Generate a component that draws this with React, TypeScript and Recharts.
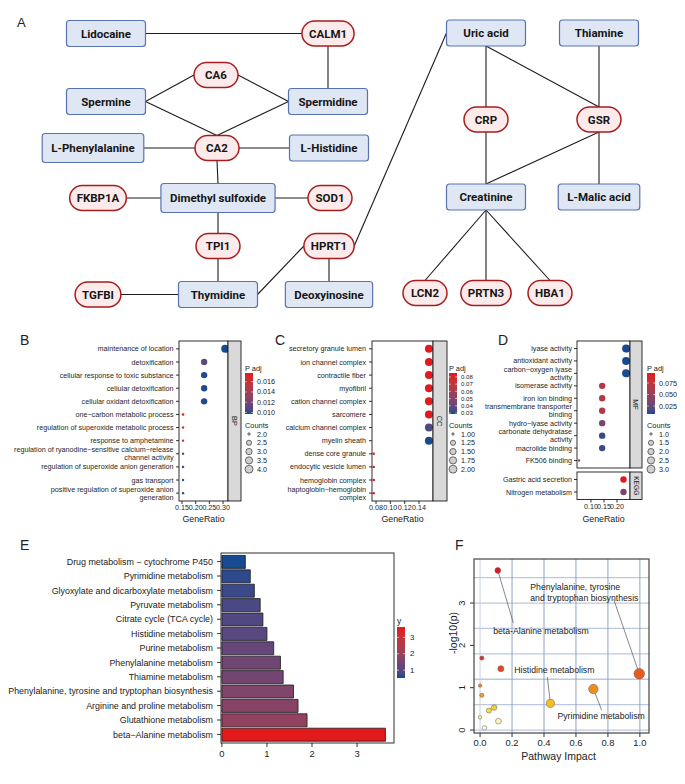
import React from 'react';
import { ScatterChart, Scatter, XAxis, YAxis, BarChart, Bar, Cell } from 'recharts';

const SANS = '"Liberation Sans", Arial, Helvetica, sans-serif';
const NODE_FONT = 'Roboto, "Liberation Sans", Arial, sans-serif';
const INK = '#222222';
const ROW_FS = 7.2;

/* ---------------- A: compound / protein network ---------------- */
const nodeNames = ['Lidocaine', 'CALM1', 'CA6', 'Spermine', 'Spermidine', 'L-Phenylalanine', 'CA2', 'L-Histidine',
  'FKBP1A', 'Dimethyl sulfoxide', 'SOD1', 'TPI1', 'HPRT1', 'TGFBI', 'Thymidine', 'Deoxyinosine',
  'Uric acid', 'Thiamine', 'CRP', 'GSR', 'Creatinine', 'L-Malic acid', 'LCN2', 'PRTN3', 'HBA1'];
// m = metabolite (box), p = protein (pill)
const nodeKinds = ['m', 'p', 'p', 'm', 'm', 'm', 'p', 'm', 'p', 'm', 'p', 'p', 'p', 'p', 'm', 'm',
  'm', 'm', 'p', 'p', 'm', 'm', 'p', 'p', 'p'];
const nodeX = [106, 328, 216, 106, 328, 93, 217, 329, 98, 218, 330, 218, 329, 98, 218, 329,
  486, 599, 486, 599, 486, 599, 425, 486, 550];
const nodeY = [33.5, 33.5, 75, 101.5, 101.5, 148, 148, 148, 198, 198, 198, 246, 246, 294.5, 294.5, 294.5,
  33, 33, 119.5, 119.5, 197, 197, 293, 293, 293];

const edgeFrom = ['Lidocaine', 'CALM1', 'Spermine', 'CA6', 'Spermine', 'CA2', 'L-Phenylalanine', 'CA2', 'CA2',
  'FKBP1A', 'Dimethyl sulfoxide', 'Dimethyl sulfoxide', 'TPI1', 'TGFBI', 'Thymidine', 'HPRT1', 'HPRT1',
  'Uric acid', 'Uric acid', 'Thiamine', 'CRP', 'GSR', 'GSR', 'Creatinine', 'Creatinine', 'Creatinine'];
const edgeTo = ['CALM1', 'Spermidine', 'CA6', 'Spermidine', 'CA2', 'Spermidine', 'CA2', 'L-Histidine',
  'Dimethyl sulfoxide', 'Dimethyl sulfoxide', 'SOD1', 'TPI1', 'Thymidine', 'Thymidine', 'HPRT1', 'Deoxyinosine',
  'Uric acid', 'CRP', 'GSR', 'GSR', 'Creatinine', 'Creatinine', 'L-Malic acid', 'LCN2', 'PRTN3', 'HBA1'];
// side of each end: l r t b
const edgeSides = ['rl', 'bt', 'rl', 'rl', 'rt', 'tl', 'rl', 'rl', 'bt', 'rl', 'rl', 'bt', 'bt', 'rl', 'rl', 'bt',
  'rl', 'bt', 'bt', 'bt', 'bt', 'bt', 'bt', 'bt', 'bt', 'bt'];

/* ---------------- B: GO BP ---------------- */
const bLabels = ['maintenance of location', 'detoxification', 'cellular response to toxic substance',
  'cellular detoxification', 'cellular oxidant detoxification', 'one\u2212carbon metabolic process',
  'regulation of superoxide metabolic process', 'response to amphetamine',
  'regulation of ryanodine\u2212sensitive calcium\u2212release\nchannel activity',
  'regulation of superoxide anion generation', 'gas transport',
  'positive regulation of superoxide anion\ngeneration'];
const bCounts = [4, 3, 3, 3, 3, 2, 2, 2, 2, 2, 2, 2];
const bRatio = [0.3077, 0.2308, 0.2308, 0.2308, 0.2308, 0.1538, 0.1538, 0.1538, 0.1538, 0.1538, 0.1538, 0.1538];
const bPadj = [0.0097, 0.0112, 0.0098, 0.0098, 0.0098, 0.0177, 0.0163, 0.0148, 0.0113, 0.0100, 0.0099, 0.0099];
const bTicks = [0.15, 0.2, 0.25, 0.3];
const bPadjBreaks = [0.010, 0.012, 0.014, 0.016];
const bCountBreaks = [2.0, 2.5, 3.0, 3.5, 4.0];

/* ---------------- C: GO CC ---------------- */
const cLabels = ['secretory granule lumen', 'ion channel complex', 'contractile fiber', 'myofibril',
  'cation channel complex', 'sarcomere', 'calcium channel complex', 'myelin sheath', 'dense core granule',
  'endocytic vesicle lumen', 'hemoglobin complex', 'haptoglobin\u2212hemoglobin\ncomplex'];
const cCounts = [2, 2, 2, 2, 2, 2, 2, 2, 1, 1, 1, 1];
const cRatio = [0.1538, 0.1538, 0.1538, 0.1538, 0.1538, 0.1538, 0.1538, 0.1538, 0.0769, 0.0769, 0.0769, 0.0769];
const cPadj = [0.0855, 0.0855, 0.0855, 0.0855, 0.0855, 0.0855, 0.035, 0.0286, 0.0855, 0.0855, 0.0855, 0.0855];
const cTicks = [0.08, 0.10, 0.12, 0.14];
const cPadjBreaks = [0.03, 0.04, 0.05, 0.06, 0.07, 0.08];
const cCountBreaks = [1.0, 1.25, 1.5, 1.75, 2.0];

/* ---------------- D: GO MF + KEGG ---------------- */
const dLabels = ['lyase activity', 'antioxidant activity', 'carbon\u2212oxygen lyase\nactivity', 'isomerase activity',
  'iron ion binding', 'transmembrane transporter\nbinding', 'hydro\u2212lyase activity',
  'carbonate dehydratase\nactivity', 'macrolide binding', 'FK506 binding'];
const dCounts = [3, 3, 3, 2, 2, 2, 2, 2, 2, 1];
const dRatio = [0.235, 0.235, 0.235, 0.143, 0.143, 0.143, 0.143, 0.143, 0.143, 0.054];
const dPadj = [0.0078, 0.0080, 0.0082, 0.066, 0.064, 0.063, 0.034, 0.012, 0.0125, 0.062];
const kLabels = ['Gastric acid secretion', 'Nitrogen metabolism'];
const kCounts = [2, 2];
const kRatio = [0.225, 0.225];
const kPadj = [0.0967, 0.034];
const dTicks = [0.10, 0.15, 0.20];
const dPadjBreaks = [0.025, 0.050, 0.075];
const dCountBreaks = [1.0, 1.5, 2.0, 2.5, 3.0];

/* ---------------- E: pathway enrichment bars ---------------- */
const eNames = ['Drug metabolism \u2212 cytochrome P450', 'Pyrimidine metabolism',
  'Glyoxylate and dicarboxylate metabolism', 'Pyruvate metabolism', 'Citrate cycle (TCA cycle)',
  'Histidine metabolism', 'Purine metabolism', 'Phenylalanine metabolism', 'Thiamine metabolism',
  'Phenylalanine, tyrosine and tryptophan biosynthesis', 'Arginine and proline metabolism',
  'Glutathione metabolism', 'beta\u2212Alanine metabolism'];
const eValues = [0.52, 0.63, 0.72, 0.85, 0.91, 1.0, 1.15, 1.3, 1.36, 1.59, 1.69, 1.89, 3.63];
const eTicks = [0, 1, 2, 3];

/* ---------------- F: pathway impact ---------------- */
const fImpact = [0.111, 0.011, 0.13, 0.0, 0.011, 0.055, 0.088, 0.0, 0.115, 0.027, 0.44, 0.709, 0.996];
const fLogp = [3.77, 1.70, 1.45, 1.05, 0.82, 0.46, 0.53, 0.30, 0.21, 0.05, 0.63, 0.97, 1.33];
const fTicksX = [0, 0.2, 0.4, 0.6, 0.8, 1.0];
const fTicksY = [0, 1, 2, 3];
const fGridX = [0, 0.2, 0.4, 0.6, 0.8, 1.0];
const fGridY = [0, 0.6, 1.2, 1.8, 2.4, 3.0, 3.6];
const fNoteText = ['Phenylalanine, tyrosine', 'and tryptophan biosynthesis', 'beta-Alanine metabolism',
  'Histidine metabolism', 'Pyrimidine metabolism'];
const fNoteX = [0.314, 0.314, 0.082, 0.214, 0.484];
const fNoteY = [3.31, 3.05, 2.27, 1.35, 0.26];
const fLeadFrom = [[0.111, 3.77], [0.836, 3.09], [0.421, 1.25], [0.761, 0.47]];
const fLeadTo = [[0.208, 2.53], [0.996, 1.33], [0.44, 0.63], [0.709, 0.97]];

/* ---------------- colour helpers ---------------- */
const LOW = '#174a90';
const HIGH = '#e31a1c';

function hexRgb(h: string) {
  const n = parseInt(h.slice(1), 16);
  return [(n >> 16) & 255, (n >> 8) & 255, n & 255];
}
const toLin = (c: number) => { c /= 255; return c <= 0.04045 ? c / 12.92 : Math.pow((c + 0.055) / 1.055, 2.4); };
const fromLin = (c: number) => {
  const v = c <= 0.0031308 ? 12.92 * c : 1.055 * Math.pow(c, 1 / 2.4) - 0.055;
  return Math.round(Math.max(0, Math.min(1, v)) * 255);
};
function toLab(hex: string) {
  const [r, g, b] = hexRgb(hex).map(toLin);
  const X = (0.4124 * r + 0.3576 * g + 0.1805 * b) / 0.95047;
  const Y = 0.2126 * r + 0.7152 * g + 0.0722 * b;
  const Z = (0.0193 * r + 0.1192 * g + 0.9505 * b) / 1.08883;
  const f = (t: number) => (t > 0.008856 ? Math.cbrt(t) : 7.787 * t + 16 / 116);
  const fx = f(X), fy = f(Y), fz = f(Z);
  return [116 * fy - 16, 500 * (fx - fy), 200 * (fy - fz)];
}
function fromLab(L: number, a: number, bb: number) {
  const fy = (L + 16) / 116, fx = fy + a / 500, fz = fy - bb / 200;
  const inv = (t: number) => (t * t * t > 0.008856 ? t * t * t : (t - 16 / 116) / 7.787);
  const X = inv(fx) * 0.95047, Y = inv(fy), Z = inv(fz) * 1.08883;
  const r = 3.2406 * X - 1.5372 * Y - 0.4986 * Z;
  const g = -0.9689 * X + 1.8758 * Y + 0.0415 * Z;
  const b = 0.0557 * X - 0.204 * Y + 1.057 * Z;
  return `rgb(${fromLin(r)},${fromLin(g)},${fromLin(b)})`;
}
const LAB_LO = toLab(LOW);
const LAB_HI = toLab(HIGH);
function grad(t: number) {
  const u = Math.max(0, Math.min(1, t));
  return fromLab(
    LAB_LO[0] + (LAB_HI[0] - LAB_LO[0]) * u,
    LAB_LO[1] + (LAB_HI[1] - LAB_LO[1]) * u,
    LAB_LO[2] + (LAB_HI[2] - LAB_LO[2]) * u,
  );
}

const heatStops: [number, string][] = [[0, '#fffbe6'], [0.25, '#f9f2ae'], [0.45, '#f5dd55'], [0.6, '#f5c419'],
  [0.8, '#f2a22a'], [1.0, '#ef8a1e'], [1.35, '#ec571b'], [1.5, '#e53e1d'], [1.8, '#e1281c'], [3.8, '#e4161c']];
function heat(v: number) {
  for (let i = 1; i < heatStops.length; i++) {
    const [v1, c1] = heatStops[i];
    const [v0, c0] = heatStops[i - 1];
    if (v <= v1 || i === heatStops.length - 1) {
      const t = Math.max(0, Math.min(1, (v - v0) / (v1 - v0)));
      const a = hexRgb(c0), b = hexRgb(c1);
      return `rgb(${a.map((x, k) => Math.round(x + (b[k] - x) * t)).join(',')})`;
    }
  }
  return heatStops[0][1];
}

const extent = (a: number[]) => [Math.min(...a), Math.max(...a)];
const makeSize = (lo: number, hi: number) => (n: number) => 1.2 + 2.8 * Math.sqrt((n - lo) / (hi - lo));

/* ---------------- geometry (page px) ---------------- */
const GB = { x: 179, r: 228, y: 341, b: 501 };
const GC = { x: 372, r: 433, y: 341, b: 501 };
const GD = { x: 577, r: 630, y: 341, b: 468 };
const GK = { x: 577, r: 630, y: 472, b: 499.5 };
const GE = { x: 221, r: 394, y: 553, b: 743 };
const GF = { x: 474, r: 649, y: 559, b: 733 };

/* ---------------- Panel A ---------------- */
function measure(s: string) {
  const c = document.createElement('canvas').getContext('2d');
  if (!c) return s.length * 6.3;
  c.font = '700 11.5px Roboto';
  return c.measureText(s).width;
}

function NodeShape(props: any) {
  const { cx, cy, payload } = props;
  const { w, h, kind, name } = payload;
  const pill = kind === 'p';
  return (
    <g>
      <rect x={cx - w / 2} y={cy - h / 2} width={w} height={h} rx={pill ? h / 2 : 3}
        fill={pill ? '#fdeaea' : '#dfe6f4'} stroke={pill ? '#a71d1d' : '#5873b3'} strokeWidth={pill ? 1.5 : 1.2} />
      <text x={cx} y={cy} dy="0.36em" textAnchor="middle" fontFamily={NODE_FONT} fontWeight={700}
        fontSize={11.5} fill="#161616">{name}</text>
    </g>
  );
}

function NetworkPanel() {
  const nodes = nodeNames.map((name, i) => {
    const tw = measure(name);
    const kind = nodeKinds[i];
    const w = kind === 'p' ? Math.max(44, tw + 14) : Math.max(79, tw + 18);
    const h = kind === 'p' ? 25 : tw > 80 ? 29 : 26;
    return { name, kind, x: nodeX[i], y: nodeY[i], w, h };
  });
  const byName: Record<string, any> = {};
  nodes.forEach((n) => { byName[n.name] = n; });
  const side = (n: any, s: string) => {
    if (s === 'l') return { x: n.x - n.w / 2, y: n.y };
    if (s === 'r') return { x: n.x + n.w / 2, y: n.y };
    if (s === 't') return { x: n.x, y: n.y - n.h / 2 };
    return { x: n.x, y: n.y + n.h / 2 };
  };
  const edges = edgeFrom.map((f, i) => [side(byName[f], edgeSides[i][0]), side(byName[edgeTo[i]], edgeSides[i][1])]);
  return (
    <ScatterChart width={685} height={310} margin={{ top: 0, right: 0, bottom: 0, left: 0 }}>
      <XAxis type="number" dataKey="x" domain={[0, 685]} hide />
      <YAxis type="number" dataKey="y" domain={[0, 310]} reversed hide />
      {edges.map((e, i) => (
        <Scatter key={i} data={e} line={{ stroke: '#1c1c1c', strokeWidth: 1.1 }} shape={() => <g />}
          isAnimationActive={false} />
      ))}
      <Scatter data={nodes} shape={NodeShape} isAnimationActive={false} />
    </ScatterChart>
  );
}

/* ---------------- Panels B, C, D ---------------- */
function RowTick(props: any) {
  const { x, y, payload, labels, fs } = props;
  const lines = String(labels[payload.value] ?? '').split('\n');
  const lh = fs * 1.07;
  return (
    <text x={x} y={y} textAnchor="end" fontSize={fs} fill="#262626" fontFamily={SANS}>
      {lines.map((l, i) => (
        <tspan key={i} x={x} dy={i === 0 ? -((lines.length - 1) / 2) * lh + fs * 0.35 : lh}>{l}</tspan>
      ))}
    </text>
  );
}

function DotPanel(props: any) {
  const { left, top, width, height, box, domain, ticks, showX, labels, ratio, padj, counts, limits, size, tickMargin } = props;
  const data = labels.map((_: string, i: number) => ({ idx: i, ratio: ratio[i], p: padj[i], n: counts[i] }));
  const xh = showX ? 14 : 0;
  const margin = { top: box.y - top, right: left + width - box.r, left: 0, bottom: top + height - box.b - xh };
  return (
    <div style={{ position: 'absolute', left, top }}>
      <ScatterChart width={width} height={height} margin={margin}>
        <XAxis type="number" dataKey="ratio" domain={domain} allowDataOverflow ticks={ticks} interval={0}
          tickFormatter={(v: number) => v.toFixed(2)} hide={!showX} height={xh} axisLine={false}
          tickSize={3} tickMargin={1} tickLine={{ stroke: '#333' }}
          tick={{ fontSize: ROW_FS, fill: '#262626', fontFamily: SANS }} />
        <YAxis type="number" dataKey="idx" domain={[-0.6, labels.length - 0.4]} allowDataOverflow reversed
          width={box.x - left} ticks={labels.map((_: string, i: number) => i)} interval={0} axisLine={false}
          tickSize={3} tickMargin={tickMargin} tickLine={{ stroke: '#333' }}
          tick={(p: any) => <RowTick {...p} labels={labels} fs={ROW_FS} />} />
        <Scatter data={data} isAnimationActive={false}
          shape={(p: any) => (
            <circle cx={p.cx} cy={p.cy} r={size(p.payload.n)}
              fill={grad((p.payload.p - limits[0]) / (limits[1] - limits[0]))} />
          )} />
      </ScatterChart>
    </div>
  );
}

function DotLegend(props: any) {
  const { x, limits, breaks, digits, countBreaks, countDigits, size, breakFs = 7.2 } = props;
  const top = 373, bot = 414, w = 8;
  const id = `cb${x}`;
  const yOf = (v: number) => bot - ((v - limits[0]) / (limits[1] - limits[0])) * (bot - top);
  return (
    <g fontFamily={SANS} fill={INK}>
      <defs>
        <linearGradient id={id} x1="0" y1="1" x2="0" y2="0">
          {Array.from({ length: 11 }, (_, i) => <stop key={i} offset={i / 10} stopColor={grad(i / 10)} />)}
        </linearGradient>
      </defs>
      <text x={x} y={370.5} fontSize={7.4}>P adj</text>
      <rect x={x} y={top} width={w} height={bot - top} fill={`url(#${id})`} />
      {breaks.map((b: number) => (
        <g key={b}>
          <line x1={x} x2={x + 1.8} y1={yOf(b)} y2={yOf(b)} stroke="#fff" strokeWidth={0.6} />
          <line x1={x + w - 1.8} x2={x + w} y1={yOf(b)} y2={yOf(b)} stroke="#fff" strokeWidth={0.6} />
          <text x={x + w + 4} y={yOf(b)} dy="0.35em" fontSize={breakFs}>{b.toFixed(digits)}</text>
        </g>
      ))}
      <text x={x} y={427.5} fontSize={7.4}>Counts</text>
      {countBreaks.map((c: number, i: number) => (
        <g key={c}>
          <circle cx={x + 4} cy={434 + i * 8.8} r={size(c)} fill="#cfcfcf" stroke="#1a1a1a" strokeWidth={0.6} />
          <text x={x + w + 4} y={434 + i * 8.8} dy="0.35em" fontSize={7.2}>{c.toFixed(countDigits)}</text>
        </g>
      ))}
    </g>
  );
}

function Strip(props: any) {
  const { x, y, w, h, label, fs } = props;
  const cx = x + w / 2, cy = y + h / 2;
  return (
    <g>
      <rect x={x} y={y} width={w} height={h} fill="#d9d9d9" stroke="#1a1a1a" strokeWidth={0.9} />
      <text x={cx} y={cy} transform={`rotate(90 ${cx} ${cy})`} textAnchor="middle" dy="0.35em"
        fontSize={fs} fill="#1a1a1a" fontFamily={SANS}>{label}</text>
    </g>
  );
}

const Border = ({ g, stroke = '#1a1a1a', sw = 0.9 }: any) => (
  <rect x={g.x} y={g.y} width={g.r - g.x} height={g.b - g.y} fill="none" stroke={stroke} strokeWidth={sw} />
);

/* ---------------- Panel E ---------------- */
function ETick(p: any) {
  return (
    <text x={p.x} y={p.y} dy="0.35em" textAnchor="end" fontSize={8.9} fill={INK} fontFamily={SANS}>
      {p.payload.value}
    </text>
  );
}

function PathwayBars() {
  const data = eNames.map((name, i) => ({ name, v: eValues[i] }));
  const [lo, hi] = extent(eValues);
  return (
    <BarChart layout="vertical" width={420} height={254} data={data} barSize={13}
      margin={{ top: GE.y - 530, right: 420 - GE.r, left: 0, bottom: 254 - (GE.b - 530) - 22 }}>
      <XAxis type="number" dataKey="v" domain={[-0.02, 3.82]} allowDataOverflow ticks={eTicks} interval={0}
        height={22} axisLine={false} tickSize={4} tickMargin={3} tickLine={{ stroke: '#333' }}
        tick={{ fontSize: 9.4, fill: INK, fontFamily: SANS }} />
      <YAxis type="category" dataKey="name" width={GE.x} padding={{ top: 1.4, bottom: 1.4 }} interval={0}
        axisLine={false} tickSize={4} tickMargin={4} tickLine={{ stroke: '#333' }} tick={ETick} />
      <Bar dataKey="v" stroke="#1a1a1a" strokeWidth={0.8} isAnimationActive={false}>
        {data.map((d, i) => <Cell key={i} fill={grad((d.v - lo) / (hi - lo))} />)}
      </Bar>
    </BarChart>
  );
}

/* ---------------- Panel F ---------------- */
function FYTick(p: any) {
  const x = p.x - 3;
  return (
    <text x={x} y={p.y} transform={`rotate(-90 ${x} ${p.y})`} textAnchor="middle" fontSize={9.4} fill={INK}
      fontFamily={SANS}>{p.payload.value}</text>
  );
}

function ImpactPlot() {
  const pts = fImpact.map((x, i) => ({ x, y: fLogp[i] }));
  const notes = fNoteText.map((text, i) => ({ x: fNoteX[i], y: fNoteY[i], text }));
  const xd: [number, number] = [-0.038, 1.057];
  const yd: [number, number] = [-0.07, 4.04];
  return (
    <ScatterChart width={255} height={254}
      margin={{ top: GF.y - 530, right: 685 - GF.r, left: 0, bottom: 254 - (GF.b - 530) - 22 }}>
      <XAxis type="number" dataKey="x" domain={xd} allowDataOverflow ticks={fTicksX} interval={0}
        tickFormatter={(v: number) => v.toFixed(1)} height={22} axisLine={false} tickSize={4} tickMargin={2}
        tickLine={{ stroke: '#333' }} tick={{ fontSize: 9.4, fill: INK, fontFamily: SANS }} />
      <YAxis type="number" dataKey="y" domain={yd} allowDataOverflow ticks={fTicksY} interval={0}
        width={GF.x - 430} axisLine={false} tickSize={4} tickMargin={2} tickLine={{ stroke: '#333' }} tick={FYTick} />
      {fGridY.map((v) => (
        <Scatter key={`h${v}`} data={[{ x: xd[0], y: v }, { x: xd[1], y: v }]} shape={() => <g />}
          line={{ stroke: '#bcc8df', strokeWidth: 1.3 }} isAnimationActive={false} />
      ))}
      {fGridX.map((v) => (
        <Scatter key={`v${v}`} data={[{ x: v, y: yd[0] }, { x: v, y: yd[1] }]} shape={() => <g />}
          line={{ stroke: v === 0 ? '#c3cde2' : '#8797bb', strokeWidth: 0.9 }} isAnimationActive={false} />
      ))}
      {fLeadFrom.map((a, i) => (
        <Scatter key={`l${i}`} data={[{ x: a[0], y: a[1] }, { x: fLeadTo[i][0], y: fLeadTo[i][1] }]}
          shape={() => <g />} line={{ stroke: '#555', strokeWidth: 0.7 }} isAnimationActive={false} />
      ))}
      <Scatter data={pts} isAnimationActive={false}
        shape={(p: any) => (
          <circle cx={p.cx} cy={p.cy} r={1.7 + 3.6 * Math.sqrt(p.payload.x)} fill={heat(p.payload.y)}
            stroke="#5a5a5a" strokeWidth={0.5} />
        )} />
      <Scatter data={notes} isAnimationActive={false}
        shape={(p: any) => (
          <text x={p.cx} y={p.cy} fontSize={8.7} fill={INK} fontFamily={SANS}>{p.payload.text}</text>
        )} />
    </ScatterChart>
  );
}

/* ---------------- overlay: letters, borders, strips, legends ---------------- */
function Overlay() {
  const bLim = extent(bPadj);
  const cLim = extent(cPadj);
  const dLim = extent([...dPadj, ...kPadj]);
  const eLim = extent(eValues);
  const eTop = 627, eBot = 678;
  const eY = (v: number) => eBot - ((v - eLim[0]) / (eLim[1] - eLim[0])) * (eBot - eTop);
  const letter = { fontSize: 14, fill: INK, fontFamily: SANS } as const;
  return (
    <svg width={685} height={784} style={{ position: 'absolute', left: 0, top: 0, pointerEvents: 'none' }}>
      <text x={17} y={27} {...letter} fontSize={13}>A</text>
      <text x={20} y={345} {...letter}>B</text>
      <text x={275} y={345} {...letter}>C</text>
      <text x={498} y={345} {...letter}>D</text>
      <text x={20} y={550} {...letter}>E</text>
      <text x={455} y={550} {...letter}>F</text>

      <Border g={GB} />
      <Strip x={GB.r} y={GB.y} w={13} h={GB.b - GB.y} label="BP" fs={7.4} />
      <Border g={GC} />
      <Strip x={GC.r} y={GC.y} w={14} h={GC.b - GC.y} label="CC" fs={7.4} />
      <Border g={GD} />
      <Strip x={GD.r} y={GD.y} w={12} h={GD.b - GD.y} label="MF" fs={7.4} />
      <Border g={GK} />
      <Strip x={GK.r} y={GK.y} w={12} h={GK.b - GK.y} label="KEGG" fs={6.6} />

      <g fontFamily={SANS} fontSize={8.8} fill={INK} textAnchor="middle">
        <text x={(GB.x + GB.r) / 2} y={521.5}>GeneRatio</text>
        <text x={(GC.x + GC.r) / 2} y={521.5}>GeneRatio</text>
        <text x={(GD.x + GD.r) / 2} y={521.5}>GeneRatio</text>
      </g>

      <DotLegend x={245} limits={bLim} breaks={bPadjBreaks} digits={3} countBreaks={bCountBreaks} countDigits={1}
        size={makeSize(2, 4)} />
      <DotLegend x={449} limits={cLim} breaks={cPadjBreaks} digits={2} countBreaks={cCountBreaks} countDigits={2}
        size={makeSize(1, 2)} breakFs={6.1} />
      <DotLegend x={647} limits={dLim} breaks={dPadjBreaks} digits={3} countBreaks={dCountBreaks} countDigits={1}
        size={makeSize(1, 3)} />

      <Border g={GE} />
      <defs>
        <linearGradient id="cbE" x1="0" y1="1" x2="0" y2="0">
          {Array.from({ length: 11 }, (_, i) => <stop key={i} offset={i / 10} stopColor={grad(i / 10)} />)}
        </linearGradient>
      </defs>
      <g fontFamily={SANS} fill={INK}>
        <text x={397} y={624} fontSize={8.4}>y</text>
        <rect x={397} y={eTop} width={8} height={eBot - eTop} fill="url(#cbE)" />
        {[1, 2, 3].map((v) => (
          <g key={v}>
            <line x1={397} x2={399} y1={eY(v)} y2={eY(v)} stroke="#fff" strokeWidth={0.6} />
            <line x1={403} x2={405} y1={eY(v)} y2={eY(v)} stroke="#fff" strokeWidth={0.6} />
            <text x={410} y={eY(v)} dy="0.35em" fontSize={7.8}>{v}</text>
          </g>
        ))}
      </g>

      <Border g={GF} stroke="#444" sw={1.2} />
      <text x={(GF.x + GF.r) / 2 - 3} y={760} textAnchor="middle" fontSize={10.5} fill={INK} fontFamily={SANS}>
        Pathway Impact
      </text>
      <text x={457} y={633} transform="rotate(-90 457 633)" textAnchor="middle" fontSize={10.5} fill={INK}
        fontFamily={SANS}>-log10(p)</text>
    </svg>
  );
}

export default function App() {
  const bLim = extent(bPadj);
  const cLim = extent(cPadj);
  const dLim = extent([...dPadj, ...kPadj]);
  return (
    <div style={{ position: 'relative', width: 685, height: 784, background: '#fff', fontFamily: SANS, overflow: 'hidden' }}>
      <style>{'body{margin:0}'}</style>
      <div style={{ position: 'absolute', left: 0, top: 0 }}><NetworkPanel /></div>
      <DotPanel left={0} top={310} width={250} height={220} box={GB} domain={[0.139, 0.318]} ticks={bTicks} showX
        labels={bLabels} ratio={bRatio} padj={bPadj} counts={bCounts} limits={bLim} size={makeSize(2, 4)} tickMargin={2.5} />
      <DotPanel left={250} top={310} width={210} height={220} box={GC} domain={[0.0744, 0.1595]} ticks={cTicks} showX
        labels={cLabels} ratio={cRatio} padj={cPadj} counts={cCounts} limits={cLim} size={makeSize(1, 2)} tickMargin={3} />
      <DotPanel left={460} top={310} width={190} height={158} box={GD} domain={[0.0462, 0.25]} ticks={dTicks} showX={false}
        labels={dLabels} ratio={dRatio} padj={dPadj} counts={dCounts} limits={dLim} size={makeSize(1, 3)} tickMargin={2} />
      <DotPanel left={460} top={460} width={190} height={70} box={GK} domain={[0.0462, 0.25]} ticks={dTicks} showX
        labels={kLabels} ratio={kRatio} padj={kPadj} counts={kCounts} limits={dLim} size={makeSize(1, 3)} tickMargin={2} />
      <div style={{ position: 'absolute', left: 0, top: 530 }}><PathwayBars /></div>
      <div style={{ position: 'absolute', left: 430, top: 530 }}><ImpactPlot /></div>
      <Overlay />
    </div>
  );
}
